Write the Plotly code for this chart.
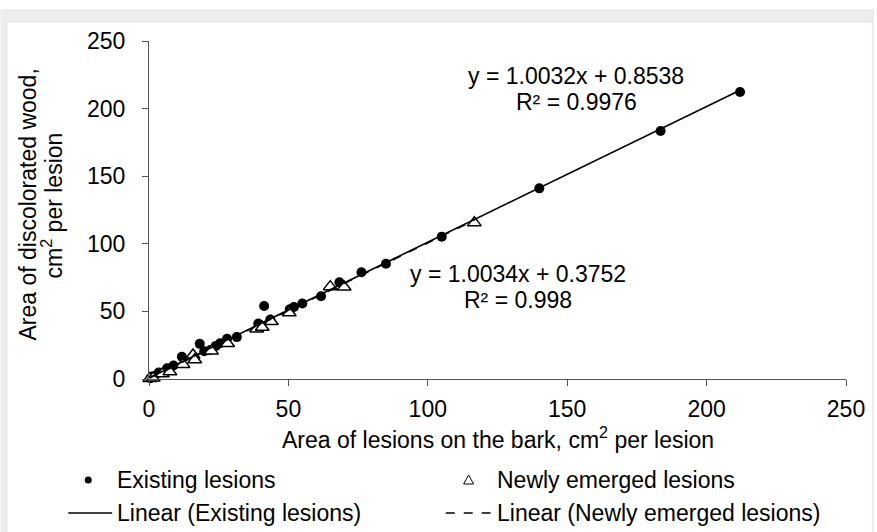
import plotly.graph_objects as go

# ---------------- data ----------------
existing_x = [0.5, 1.2, 3.5, 6.5, 8.8, 11.8, 18.2, 19.8, 22.0, 24.0, 25.5, 28.0, 31.5, 39.2,
              41.3, 43.5, 50.5, 52.0, 55.0, 61.7, 68.3, 76.2, 85.0, 105.0, 140.0, 183.5, 212.0]
existing_y = [0.6, 1.8, 4.8, 8.0, 10.0, 16.5, 26.0, 20.5, 21.5, 24.5, 26.4, 29.8, 31.0, 41.0,
              54.0, 44.0, 51.5, 53.2, 55.8, 61.2, 71.5, 79.0, 85.2, 105.3, 141.0, 183.4, 212.3]

new_x = [0.3, 1.5, 4.8, 7.5, 12.2, 15.8, 16.4, 22.4, 28.2, 38.6, 40.6, 43.9, 50.3, 65.0, 70.0, 116.7]
new_y = [0.3, 0.8, 3.8, 5.4, 10.8, 17.8, 14.3, 20.8, 26.2, 37.0, 38.3, 42.5, 49.0, 68.3, 68.0, 115.5]

# trendline coefficients (as printed on the chart)
existing_slope, existing_intercept, existing_r2 = 1.0032, 0.8538, "0.9976"
new_slope, new_intercept, new_r2 = 1.0034, 0.3752, "0.998"

tick_vals = [0, 50, 100, 150, 200, 250]
x_title = "Area of lesions on the bark, cm<sup>2</sup> per lesion"
y_title_1 = "Area of discolorated wood,"
y_title_2 = "cm<sup>2</sup> per lesion"
legend_labels = ["Existing lesions", "Newly emerged lesions",
                 "Linear (Existing lesions)", "Linear (Newly emerged lesions)"]

# ---------------- layout geometry ----------------
W, H = 877, 532
L, R, T, B = 149, 28, 41, 153
PW, PH = W - L - R, H - T - B
FONT = "Liberation Sans, Arial, sans-serif"
FS = 23
AXC = "#555555"


def px(xp):
    return (xp - L) / PW


def py(yp):
    return (H - B - yp) / PH


def trend(xs, m, b):
    x0, x1 = min(xs), max(xs)
    return [x0, x1], [m * x0 + b, m * x1 + b]


fig = go.Figure()

fig.add_trace(go.Scatter(x=existing_x, y=existing_y, mode="markers", name=legend_labels[0],
                         marker=dict(symbol="circle", size=10, color="black"),
                         cliponaxis=False, showlegend=False))
fig.add_trace(go.Scatter(x=new_x, y=new_y, mode="markers", name=legend_labels[1],
                         marker=dict(symbol="triangle-up", size=12, color="white",
                                     line=dict(color="black", width=1.5)),
                         cliponaxis=False, showlegend=False))

tx, ty = trend(existing_x, existing_slope, existing_intercept)
fig.add_trace(go.Scatter(x=tx, y=ty, mode="lines", name=legend_labels[2],
                         line=dict(color="black", width=1.6), cliponaxis=False, showlegend=False))
tx, ty = trend(new_x, new_slope, new_intercept)
fig.add_trace(go.Scatter(x=tx, y=ty, mode="lines", name=legend_labels[3],
                         line=dict(color="black", width=1.6, dash="dash"), cliponaxis=False,
                         showlegend=False))

axis_common = dict(range=[0, 250], tickvals=tick_vals, showgrid=False, zeroline=False,
                   showline=True, linecolor=AXC, linewidth=1.3, ticks="outside", ticklen=6,
                   tickcolor=AXC, tickwidth=1.3, tickfont=dict(family=FONT, size=FS, color="black"))
fig.update_xaxes(**axis_common, ticklabelstandoff=3)
fig.update_yaxes(**axis_common, ticklabelstandoff=12)

ann = []
tf = dict(family=FONT, size=FS, color="black")
# equations
ann.append(dict(x=px(578), y=py(76), text=f"y = {existing_slope}x + {existing_intercept}"))
ann.append(dict(x=px(578), y=py(102), text=f"R² = {existing_r2}"))
ann.append(dict(x=px(520), y=py(274), text=f"y = {new_slope}x + {new_intercept}"))
ann.append(dict(x=px(520), y=py(300), text=f"R² = {new_r2}"))
# axis titles
ann.append(dict(x=px(499), y=py(438), text=x_title))
ann.append(dict(x=px(27), y=py(205), text=y_title_1, textangle=-90))
ann.append(dict(x=px(52), y=py(205), text=y_title_2, textangle=-90))
# legend texts
ann.append(dict(x=px(115), y=py(480), text=legend_labels[0], xanchor="left"))
ann.append(dict(x=px(496), y=py(480), text=legend_labels[1], xanchor="left"))
ann.append(dict(x=px(115), y=py(513), text=legend_labels[2], xanchor="left"))
ann.append(dict(x=px(496), y=py(513), text=legend_labels[3], xanchor="left"))
annotations = []
for a in ann:
    d = dict(xref="paper", yref="paper", showarrow=False, font=tf,
             xanchor="center", yanchor="middle")
    d.update(a)
    annotations.append(d)

GRAY = "#ececec"
shapes = [
    dict(type="rect", xref="paper", yref="paper", x0=px(0), x1=px(W), y0=py(9), y1=py(23),
         fillcolor=GRAY, line=dict(width=0), layer="below"),
    dict(type="rect", xref="paper", yref="paper", x0=px(0), x1=px(7), y0=py(9), y1=py(H),
         fillcolor=GRAY, line=dict(width=0), layer="below"),
    dict(type="rect", xref="paper", yref="paper", x0=px(875), x1=px(W), y0=py(9), y1=py(H),
         fillcolor=GRAY, line=dict(width=0), layer="below"),
    # legend symbols
    dict(type="circle", xref="paper", yref="paper", x0=px(84.5), x1=px(91.5), y0=py(476.5),
         y1=py(483.5), fillcolor="black", line=dict(width=0)),
    dict(type="path", xref="paper", yref="paper",
         path=f"M {px(465)} {py(484)} L {px(475)} {py(484)} L {px(470)} {py(475)} Z",
         fillcolor="white", line=dict(color="black", width=1)),
    dict(type="line", xref="paper", yref="paper", x0=px(68), x1=px(112), y0=py(513), y1=py(513),
         line=dict(color="black", width=1.6)),
    dict(type="line", xref="paper", yref="paper", x0=px(447), x1=px(492), y0=py(513), y1=py(513),
         line=dict(color="black", width=1.6, dash="dash")),
]

fig.update_layout(width=W, height=H, margin=dict(l=L, r=R, t=T, b=B),
                  paper_bgcolor="white", plot_bgcolor="white",
                  font=dict(family=FONT, size=FS, color="black"),
                  annotations=annotations, shapes=shapes, showlegend=False)

fig.write_html("out.html", config={"displayModeBar": False},
               post_script="document.body.style.margin='0';document.body.style.overflow='hidden';")
